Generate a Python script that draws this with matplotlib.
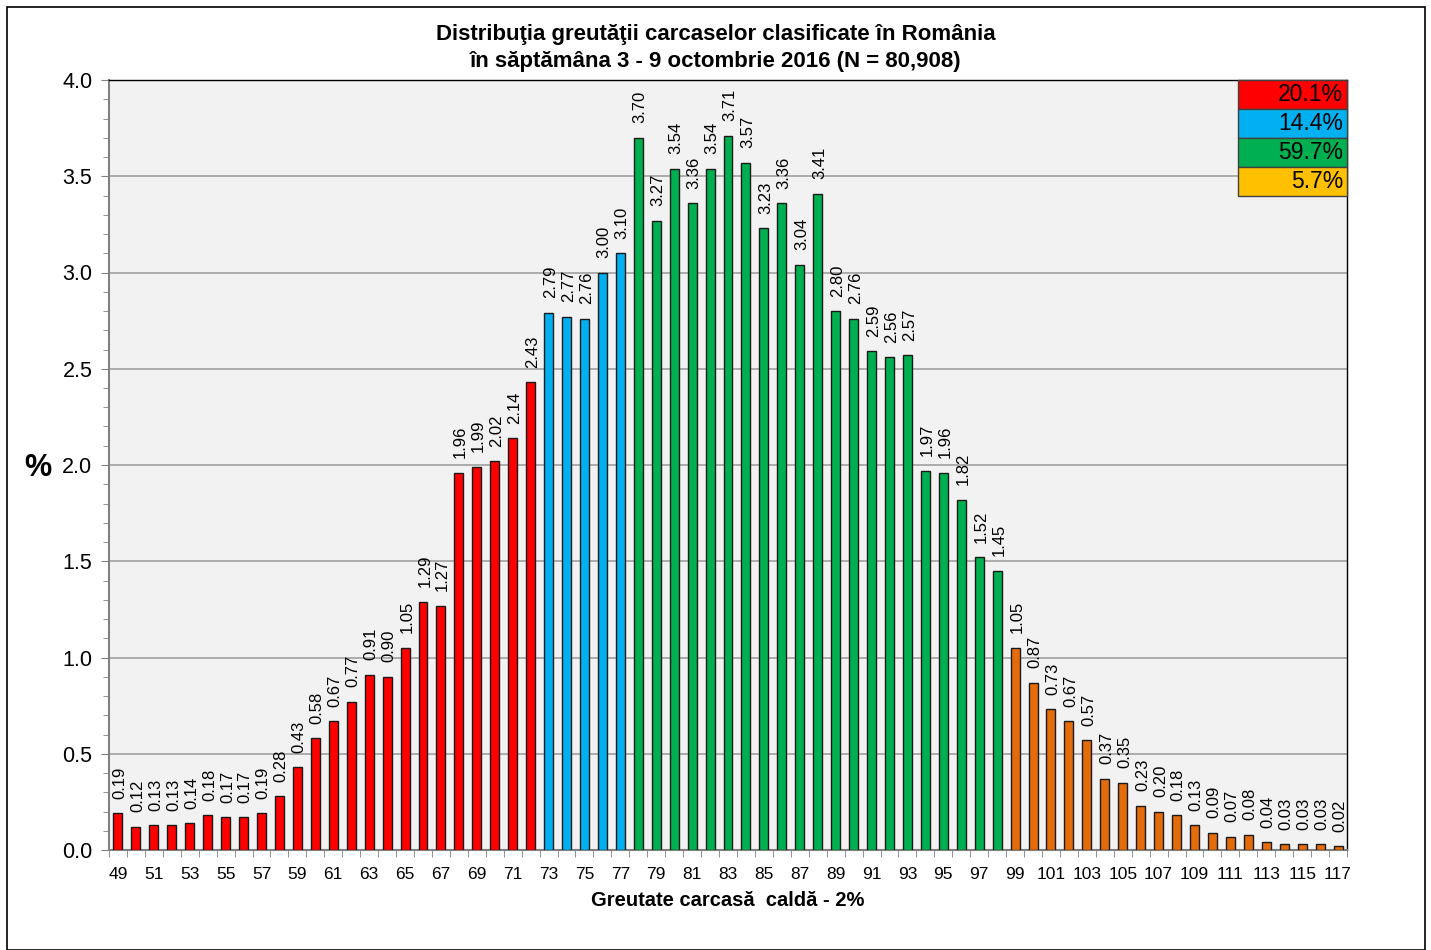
import matplotlib.pyplot as plt
from matplotlib.patches import Rectangle
from matplotlib.ticker import MultipleLocator

plt.rcParams['font.family'] = ['Liberation Sans', 'DejaVu Sans']

# greutate carcasa (kg) si procente
weights = list(range(49, 118))
values = [0.19, 0.12, 0.13, 0.13, 0.14, 0.18, 0.17, 0.17, 0.19, 0.28,
          0.43, 0.58, 0.67, 0.77, 0.91, 0.90, 1.05, 1.29, 1.27, 1.96,
          1.99, 2.02, 2.14, 2.43,
          2.79, 2.77, 2.76, 3.00, 3.10,
          3.70, 3.27, 3.54, 3.36, 3.54, 3.71, 3.57, 3.23, 3.36, 3.04,
          3.41, 2.80, 2.76, 2.59, 2.56, 2.57, 1.97, 1.96, 1.82, 1.52, 1.45,
          1.05, 0.87, 0.73, 0.67, 0.57, 0.37, 0.35, 0.23, 0.20, 0.18,
          0.13, 0.09, 0.07, 0.08, 0.04, 0.03, 0.03, 0.03, 0.02]
group_sizes = [24, 5, 21, 19]
group_colors = ['#FF0000', '#00B0F0', '#00B050', '#E46C0A']
legend_pct = ['20.1%', '14.4%', '59.7%', '5.7%']
legend_colors = ['#FF0000', '#00B0F0', '#00B050', '#FFC000']

colors = []
for n, c in zip(group_sizes, group_colors):
    colors += [c] * n

fig = plt.figure(figsize=(14.31, 9.5), dpi=100)
ax = fig.add_axes([109 / 1431, 100 / 950, (1347 - 109) / 1431, (850 - 80) / 950])
ax.set_facecolor('#F2F2F2')

x = list(range(len(weights)))
ax.bar(x, values, width=0.5, color=colors, edgecolor='#1a1a1a', linewidth=1, zorder=3)

for xi, v in zip(x, values):
    ax.text(xi + 0.1, v + 0.075, f'{v:.2f}', rotation=90, ha='center', va='bottom',
            fontsize=12, zorder=4)

ax.set_xlim(-0.5, len(weights) - 0.5)
ax.set_ylim(0, 4.0)
ax.yaxis.set_major_locator(MultipleLocator(0.5))
ax.yaxis.set_minor_locator(MultipleLocator(0.1))
ax.yaxis.set_major_formatter(plt.FuncFormatter(lambda v, p: f'{v:.1f}'))
ax.grid(axis='y', which='major', color='#A6A6A6', linewidth=1.3, zorder=1)

ax.set_xticks(x[::2])
ax.set_xticklabels([str(w) for w in weights[::2]], fontsize=12.5)
ax.set_xticks([i - 0.5 for i in range(len(weights) + 1)], minor=True)
ax.tick_params(axis='x', which='major', length=0, pad=12)
ax.tick_params(axis='x', which='minor', length=5, color='#808080')
ax.tick_params(axis='y', which='major', length=6, color='#808080', labelsize=15.5, pad=6)
ax.tick_params(axis='y', which='minor', length=4, color='#808080')

for s in ['top', 'right']:
    ax.spines[s].set_color('black')
    ax.spines[s].set_linewidth(1)
ax.spines['left'].set_color('#808080')
ax.spines['bottom'].set_color('#808080')
ax.spines['left'].set_linewidth(1.5)
ax.spines['bottom'].set_linewidth(1.5)

ax.set_xlabel('Greutate carcasă  caldă - 2%', fontsize=14.5, fontweight='bold', labelpad=7)
fig.text(38 / 1431, 1 - 468 / 950, '%', fontsize=22, fontweight='bold', ha='center', va='center')

fig.text(716 / 1431, 1 - 48 / 950,
         'Distribuţia greutăţii carcaselor clasificate în România\nîn săptămâna 3 - 9 octombrie 2016 (N = 80,908)',
         ha='center', va='center', fontsize=16, fontweight='bold', linespacing=1.4)

# caseta cu procente pe grupe
bx0, bx1 = 1238 / 1431, 1347 / 1431
row_h = 29 / 950
for i, (pct, c) in enumerate(zip(legend_pct, legend_colors)):
    y0 = 1 - (80 + (i + 1) * 29) / 950
    fig.patches.append(Rectangle((bx0, y0), bx1 - bx0, row_h, transform=fig.transFigure,
                                 facecolor=c, edgecolor='#404040', linewidth=1, zorder=5))
    fig.text(bx1 - 4 / 1431, y0 + row_h / 2, pct, ha='right', va='center', fontsize=16.5, zorder=6)

# chenar exterior
fig.patches.append(Rectangle((7 / 1431, 0), 1418 / 1431, 943 / 950, transform=fig.transFigure,
                             fill=False, edgecolor='black', linewidth=1.2))

fig.savefig('out.png', dpi=100)
